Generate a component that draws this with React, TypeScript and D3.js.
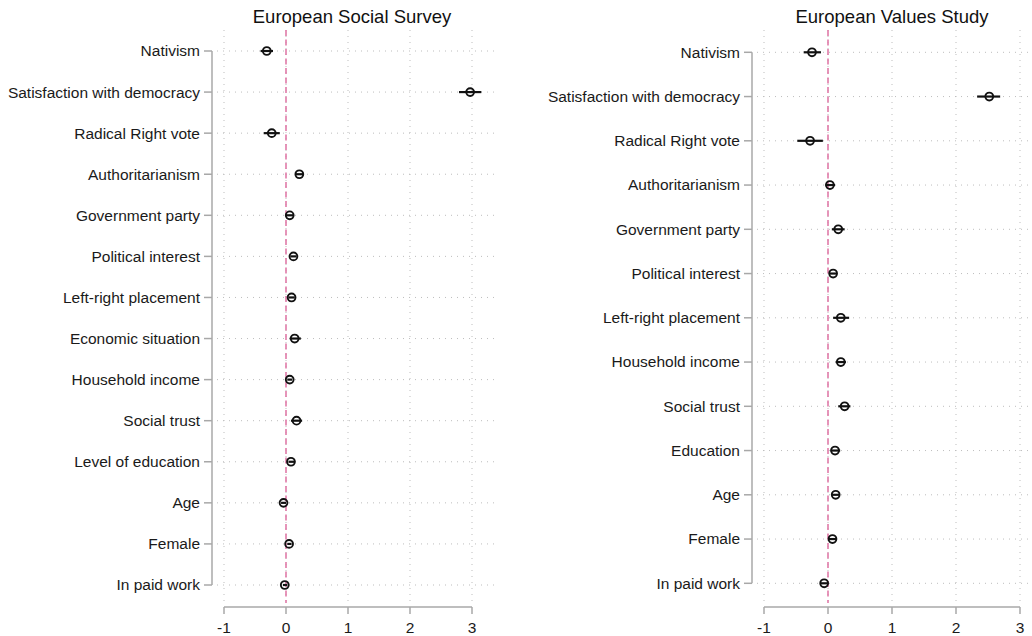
import React from "react";
import * as d3 from "d3";

const essCategories = [
  "Nativism", "Satisfaction with democracy", "Radical Right vote", "Authoritarianism",
  "Government party", "Political interest", "Left-right placement", "Economic situation",
  "Household income", "Social trust", "Level of education", "Age", "Female", "In paid work",
];
const essEstimate = [-0.31, 2.97, -0.23, 0.215, 0.06, 0.12, 0.09, 0.14, 0.06, 0.17, 0.08, -0.04, 0.05, -0.02];
const essLower = [-0.41, 2.79, -0.36, 0.15, 0.0, 0.07, 0.04, 0.06, 0.02, 0.08, 0.04, -0.08, 0.02, -0.05];
const essUpper = [-0.21, 3.15, -0.10, 0.29, 0.12, 0.17, 0.14, 0.24, 0.10, 0.26, 0.13, 0.0, 0.09, 0.02];

const evsCategories = [
  "Nativism", "Satisfaction with democracy", "Radical Right vote", "Authoritarianism",
  "Government party", "Political interest", "Left-right placement", "Household income",
  "Social trust", "Education", "Age", "Female", "In paid work",
];
const evsEstimate = [-0.25, 2.52, -0.28, 0.03, 0.16, 0.08, 0.20, 0.20, 0.26, 0.11, 0.12, 0.07, -0.06];
const evsLower = [-0.38, 2.33, -0.48, -0.04, 0.06, 0.02, 0.08, 0.12, 0.16, 0.04, 0.06, 0.01, -0.11];
const evsUpper = [-0.11, 2.69, -0.08, 0.11, 0.26, 0.14, 0.33, 0.28, 0.35, 0.19, 0.18, 0.13, -0.01];

const xTicks = [-1, 0, 1, 2, 3];

type PanelProps = {
  title: string;
  categories: string[];
  est: number[];
  lo: number[];
  hi: number[];
  x0: number;
  x1: number;
  y0: number;
  y1: number;
  axisX: number;
  plotRight: number;
  titleX: number;
};

const FONT = "'Liberation Sans', Arial, sans-serif";

function Panel(p: PanelProps) {
  const x = d3.scaleLinear().domain([-1, 3]).range([p.x0, p.x1]);
  const y = d3.scalePoint<string>().domain(p.categories).range([p.y0, p.y1]);
  const gridTop = 30;
  const gridBottom = 603;
  const axisY = 607;
  const gridLeft = p.axisX + 5;
  return (
    <g>
      <text x={p.titleX} y={23} textAnchor="middle" fontSize={18.5} fill="#111" fontFamily={FONT}>
        {p.title}
      </text>
      {xTicks.map((t) => (
        <line key={"vg" + t} x1={x(t)} x2={x(t)} y1={gridTop} y2={gridBottom}
          stroke="#bdbdbd" strokeWidth={1} strokeDasharray="1,5" />
      ))}
      {p.categories.map((c) => (
        <line key={"hg" + c} x1={gridLeft} x2={p.plotRight} y1={y(c)!} y2={y(c)!}
          stroke="#bdbdbd" strokeWidth={1} strokeDasharray="1,5" />
      ))}
      <line x1={x(0)} x2={x(0)} y1={gridTop} y2={gridBottom}
        stroke="#e07aa8" strokeWidth={1.6} strokeDasharray="6,3.5" />
      <line x1={p.axisX} x2={p.axisX} y1={p.y0} y2={p.y1} stroke="#a8a8a8" strokeWidth={1.5} />
      {p.categories.map((c) => (
        <g key={"yt" + c}>
          <line x1={p.axisX - 8} x2={p.axisX} y1={y(c)!} y2={y(c)!} stroke="#a8a8a8" strokeWidth={1.5} />
          <text x={p.axisX - 12} y={y(c)!} dy="0.35em" textAnchor="end" fontSize={15.5}
            fill="#1a1a1a" fontFamily={FONT}>{c}</text>
        </g>
      ))}
      <line x1={x(-1)} x2={x(3)} y1={axisY} y2={axisY} stroke="#a8a8a8" strokeWidth={1.5} />
      {xTicks.map((t) => (
        <g key={"xt" + t}>
          <line x1={x(t)} x2={x(t)} y1={axisY} y2={axisY + 7} stroke="#a8a8a8" strokeWidth={1.5} />
          <text x={x(t)} y={632.5} textAnchor="middle" fontSize={15.5} fill="#1a1a1a" fontFamily={FONT}>
            {t}
          </text>
        </g>
      ))}
      {p.categories.map((c, i) => (
        <g key={"pt" + c}>
          <line x1={x(p.lo[i])} x2={x(p.hi[i])} y1={y(c)!} y2={y(c)!} stroke="#111" strokeWidth={2.2} />
          <circle cx={x(p.est[i])} cy={y(c)!} r={3.9} fill="none" stroke="#111" strokeWidth={1.9} />
        </g>
      ))}
    </g>
  );
}

export default function App() {
  return (
    <svg width={1032} height={636} style={{ position: "absolute", left: 0, top: 0, background: "#fff" }}>
      <rect width={1032} height={636} fill="#fff" />
      <Panel title="European Social Survey" categories={essCategories} est={essEstimate}
        lo={essLower} hi={essUpper} x0={224} x1={472} y0={51} y1={585} axisX={212}
        plotRight={494} titleX={352} />
      <Panel title="European Values Study" categories={evsCategories} est={evsEstimate}
        lo={evsLower} hi={evsUpper} x0={764} x1={1020} y0={52.3} y1={583.3} axisX={752}
        plotRight={1032} titleX={892} />
    </svg>
  );
}
